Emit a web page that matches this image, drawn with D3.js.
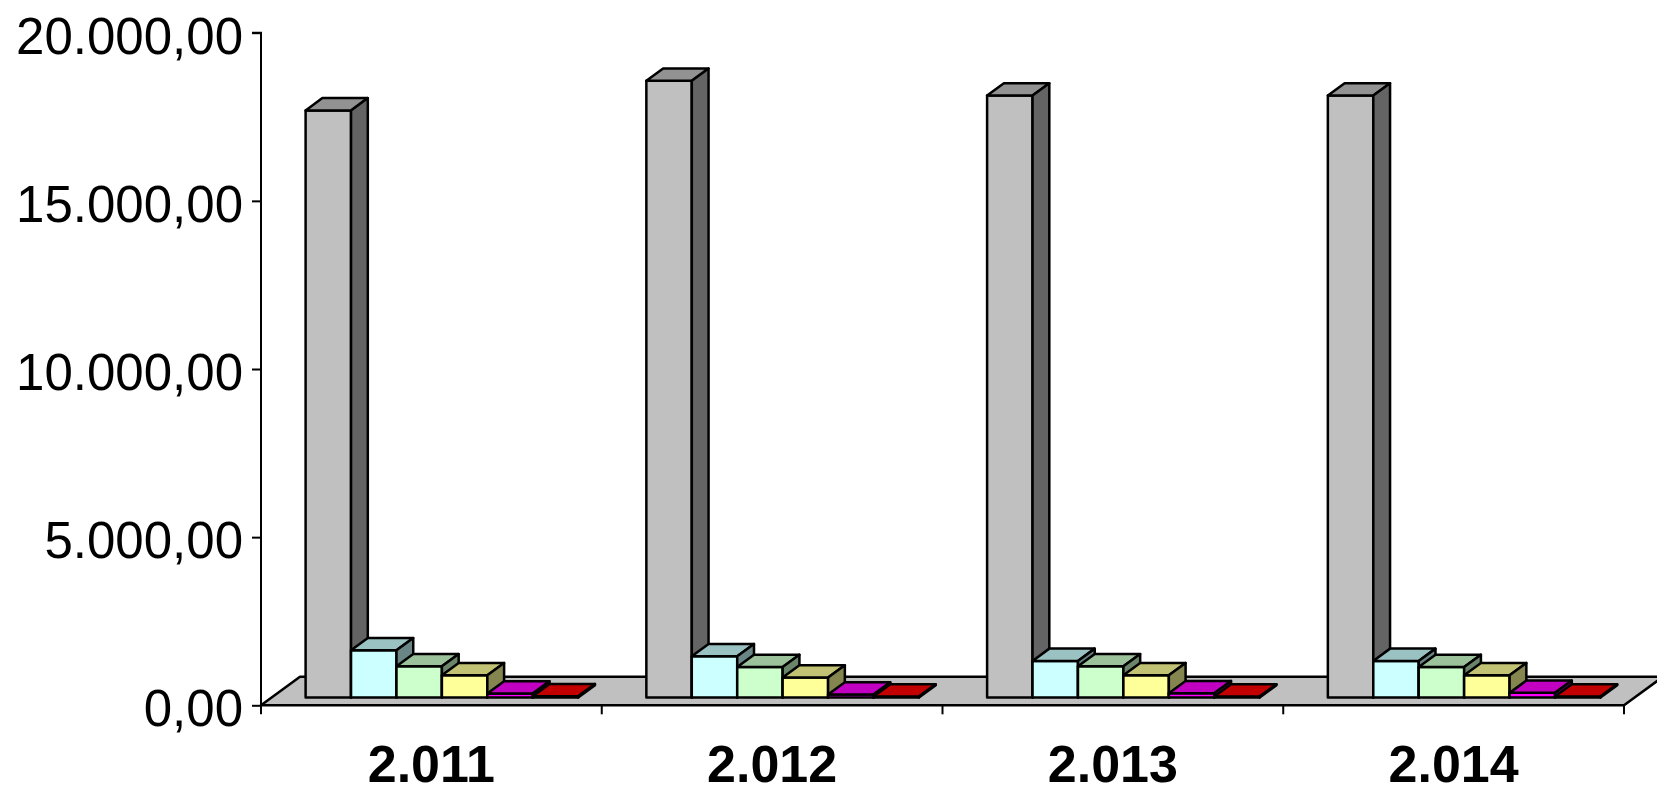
<!DOCTYPE html>
<html>
<head>
<meta charset="utf-8">
<script src="https://cdn.jsdelivr.net/npm/d3@7"></script>
<style>
  html, body { margin: 0; padding: 0; background: #fff; }
  svg { display: block; font-family: "Liberation Sans", Arial, sans-serif; }
</style>
</head>
<body>
<div id="chart"></div>
<script>
const categories = ["2.011", "2.012", "2.013", "2.014"];
const seriesGray = [17460, 18340, 17900, 17900];
const seriesCyan = [1405, 1230, 1090, 1090];
const seriesGreen = [930, 910, 930, 910];
const seriesYellow = [665, 595, 665, 665];
const seriesMagenta = [120, 90, 130, 140];
const seriesRed = [40, 30, 30, 30];
const yTicks = [0, 5000, 10000, 15000, 20000];

const series = [
  {name: "s1", color: "#C0C0C0", values: seriesGray},
  {name: "s2", color: "#CCFFFF", values: seriesCyan},
  {name: "s3", color: "#CCFFCC", values: seriesGreen},
  {name: "s4", color: "#FFFF99", values: seriesYellow},
  {name: "s5", color: "#FF00FF", values: seriesMagenta},
  {name: "s6", color: "#FF0000", values: seriesRed}
];

const width = 1657, height = 791;
const plot = {left: 261, right: 1624, top: 32.7, bottom: 705.3};
// floor depth vector and where the columns sit inside it
const depth = {dx: 39, dy: -28.6};
const front = 0.27, back = 0.70;

const locale = d3.formatLocale({decimal: ",", thousands: ".", grouping: [3], currency: ["", ""]});
const fmt = locale.format(",.2f");

const shade = (c, k) => {
  const o = d3.rgb(c);
  return d3.rgb(o.r * k, o.g * k, o.b * k).formatHex();
};

const x = d3.scaleBand()
    .domain(categories)
    .range([plot.left, plot.right]);

const xs = d3.scaleBand()
    .domain(series.map(s => s.name))
    .range([0, x.bandwidth()])
    .paddingOuter(0.75);

const y = d3.scaleLinear()
    .domain([0, 20000])
    .range([plot.bottom, plot.top]);

const svg = d3.select("#chart")
  .append("svg")
    .attr("width", width)
    .attr("height", height);

// floor
const fl = [
  [plot.left, plot.bottom],
  [plot.right, plot.bottom],
  [plot.right + depth.dx, plot.bottom + depth.dy],
  [plot.left + depth.dx, plot.bottom + depth.dy]
];
svg.append("polygon")
    .attr("points", fl.map(p => p.join(",")).join(" "))
    .attr("fill", "#C0C0C0")
    .attr("stroke", "#000")
    .attr("stroke-width", 2.5)
    .attr("stroke-linejoin", "round");

// columns, drawn left to right so each front covers the previous side
const ox0 = depth.dx * front, oy0 = depth.dy * front;
const ox1 = depth.dx * back, oy1 = depth.dy * back;
const bars = [];
categories.forEach((c, ci) => {
  series.forEach(s => {
    bars.push({cat: c, s: s, v: s.values[ci]});
  });
});

const gBars = svg.append("g")
    .attr("stroke", "#000")
    .attr("stroke-width", 2.5)
    .attr("stroke-linejoin", "round");

const bar = gBars.selectAll("g")
  .data(bars)
  .join("g");

const pts = arr => arr.map(p => p.join(",")).join(" ");

bar.append("polygon")
    .attr("fill", d => d.s.color)
    .attr("points", d => {
      const x0 = x(d.cat) + xs(d.s.name), x1 = x0 + xs.bandwidth();
      const yt = y(d.v), yb = y(0);
      return pts([[x0 + ox0, yt + oy0], [x1 + ox0, yt + oy0], [x1 + ox0, yb + oy0], [x0 + ox0, yb + oy0]]);
    });

bar.append("polygon")
    .attr("fill", d => shade(d.s.color, 0.76))
    .attr("points", d => {
      const x0 = x(d.cat) + xs(d.s.name), x1 = x0 + xs.bandwidth();
      const yt = y(d.v);
      return pts([[x0 + ox0, yt + oy0], [x1 + ox0, yt + oy0], [x1 + ox1, yt + oy1], [x0 + ox1, yt + oy1]]);
    });

bar.append("polygon")
    .attr("fill", d => shade(d.s.color, 0.52))
    .attr("points", d => {
      const x1 = x(d.cat) + xs(d.s.name) + xs.bandwidth();
      const yt = y(d.v), yb = y(0);
      return pts([[x1 + ox0, yt + oy0], [x1 + ox1, yt + oy1], [x1 + ox1, yb + oy1], [x1 + ox0, yb + oy0]]);
    });

// value axis
const yAxis = svg.append("g")
    .attr("transform", `translate(${plot.left},0)`)
    .call(d3.axisLeft(y).tickValues(yTicks).tickFormat(fmt).tickSize(9).tickPadding(9));

yAxis.select(".domain")
    .attr("d", `M-9,${plot.top}H0V${plot.bottom}`)
    .attr("stroke-width", 2);
yAxis.selectAll(".tick line").attr("stroke-width", 2);
yAxis.selectAll("text")
    .attr("font-family", "Liberation Sans, Arial, sans-serif")
    .attr("font-size", 51)
    .attr("fill", "#000")
    .attr("dy", "0.4em");

// category axis
const xAxis = svg.append("g")
    .attr("transform", `translate(0,${plot.bottom})`)
    .call(d3.axisBottom(x).tickSize(0).tickPadding(40));

xAxis.select(".domain").remove();
xAxis.selectAll("text")
    .attr("font-family", "Liberation Sans, Arial, sans-serif")
    .attr("font-size", 52)
    .attr("font-weight", "bold")
    .attr("fill", "#000");

const bounds = categories.map(c => x(c)).concat([plot.right]);
xAxis.selectAll(".bound")
  .data(bounds)
  .join("line")
    .attr("class", "bound")
    .attr("x1", d => d).attr("x2", d => d)
    .attr("y1", 0).attr("y2", 9)
    .attr("stroke", "#000")
    .attr("stroke-width", 2);
</script>
</body>
</html>
